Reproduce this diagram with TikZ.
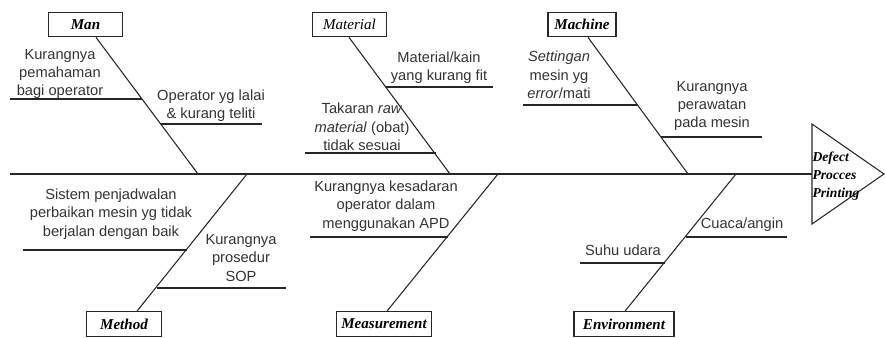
\documentclass[tikz,border=0pt]{standalone}
\usepackage{fontspec}
\setmainfont{Liberation Serif}
\newfontfamily\arialf{Liberation Sans}
\begin{document}
\begin{tikzpicture}[x=0.75pt,y=-0.75pt,
  bone/.style={draw=black!85,line width=0.8pt},
  catbox/.style={draw=black!85,line width=0.8pt,minimum height=18.5pt,inner sep=0pt,font=\fontsize{11.3}{12}\selectfont\itshape},
  cause/.style={align=center,inner sep=0pt,font=\arialf\fontsize{11}{13.8}\selectfont,text=black!80},
  headtxt/.style={align=left,inner sep=1pt,font=\fontsize{10.2}{13.5}\selectfont\bfseries\itshape}]
\useasboundingbox (0,0) rectangle (885,338);
% head
\coordinate (h1) at (812,124);
\coordinate (h2) at (884,174);
\coordinate (h3) at (812,224);
\coordinate (head) at (812,174);
\coordinate (tail) at (10,174);
\draw[bone] (h1) -- (h2) -- (h3) -- cycle;
\node[headtxt,anchor=west] (effect) at (811,176) {Defect\\Procces\\Printing};
\draw[bone] (tail) -- (head);
% category boxes
\node[catbox,minimum width=56pt] (man) at (85.5,24.5) {\bfseries Man};
\node[catbox,minimum width=56pt] (mat) at (349.5,24.5) {Material};
\node[catbox,minimum width=51pt] (mach) at (582,24.5) {\bfseries Machine};
\node[catbox,minimum width=56pt] (meth) at (124,324) {\bfseries Method};
\node[catbox,minimum width=71pt] (meas) at (384,324) {\bfseries Measurement};
\node[catbox,minimum width=75pt] (env) at (624,324) {\bfseries Environment};
% spine points
\coordinate (sMan) at (198,174);
\coordinate (sMat) at (450,174);
\coordinate (sMach) at (688,174);
\coordinate (sMeth) at (247,174);
\coordinate (sMeas) at (498,174);
\coordinate (sEnv) at (736,174);
% bones
\draw[bone] (96,0 |- man.south) -- (sMan);
\draw[bone] (349,0 |- mat.south) -- (sMat);
\draw[bone] (588,0 |- mach.south) -- (sMach);
\draw[bone] (137,0 |- meth.north) -- (sMeth);
\draw[bone] (387,0 |- meas.north) -- (sMeas);
\draw[bone] (625,0 |- env.north) -- (sEnv);
% Man causes
\node[cause] (c1) at (60,74) {Kurangnya\\pemahaman\\bagi operator};
\coordinate (c1a) at (10,99); \coordinate (c1b) at (142,99);
\draw[bone] (c1a) -- (c1b);
\node[cause] (c2) at (211,106) {Operator yg lalai\\\& kurang teliti};
\coordinate (c2a) at (161,124); \coordinate (c2b) at (262,124);
\draw[bone] (c2a) -- (c2b);
% Material causes
\node[cause] (c3) at (439,68) {Material/kain\\yang kurang fit};
\coordinate (c3a) at (386,87); \coordinate (c3b) at (493,87);
\draw[bone] (c3a) -- (c3b);
\node[cause] (c4) at (362,127) {Takaran \textit{raw}\\\textit{material} (obat)\\tidak sesuai};
\coordinate (c4a) at (305,153); \coordinate (c4b) at (436,153);
\draw[bone] (c4a) -- (c4b);
% Machine causes
\node[cause] (c5) at (559,75) {\textit{Settingan}\\mesin yg\\\textit{error}/mati};
\coordinate (c5a) at (523,105); \coordinate (c5b) at (638,105);
\draw[bone] (c5a) -- (c5b);
\node[cause] (c6) at (712,106) {Kurangnya\\perawatan\\pada mesin};
\coordinate (c6a) at (661,137); \coordinate (c6b) at (762,137);
\draw[bone] (c6a) -- (c6b);
% Method causes
\node[cause] (c7) at (111,214) {Sistem penjadwalan\\perbaikan mesin yg tidak\\berjalan dengan baik};
\coordinate (c7a) at (23,250); \coordinate (c7b) at (187,250);
\draw[bone] (c7a) -- (c7b);
\node[cause] (c8) at (241,258) {Kurangnya\\prosedur\\SOP};
\coordinate (c8a) at (157,288); \coordinate (c8b) at (286,288);
\draw[bone] (c8a) -- (c8b);
% Measurement cause
\node[cause] (c9) at (386,206) {Kurangnya kesadaran\\operator dalam\\menggunakan APD};
\coordinate (c9a) at (310,237); \coordinate (c9b) at (448,237);
\draw[bone] (c9a) -- (c9b);
% Environment causes
\node[cause] (c10) at (742,225) {Cuaca/angin};
\coordinate (c10a) at (686,237); \coordinate (c10b) at (787,237);
\draw[bone] (c10a) -- (c10b);
\node[cause] (c11) at (623,250) {Suhu udara};
\coordinate (c11a) at (580,263); \coordinate (c11b) at (665,263);
\draw[bone] (c11a) -- (c11b);
\end{tikzpicture}
\end{document}
